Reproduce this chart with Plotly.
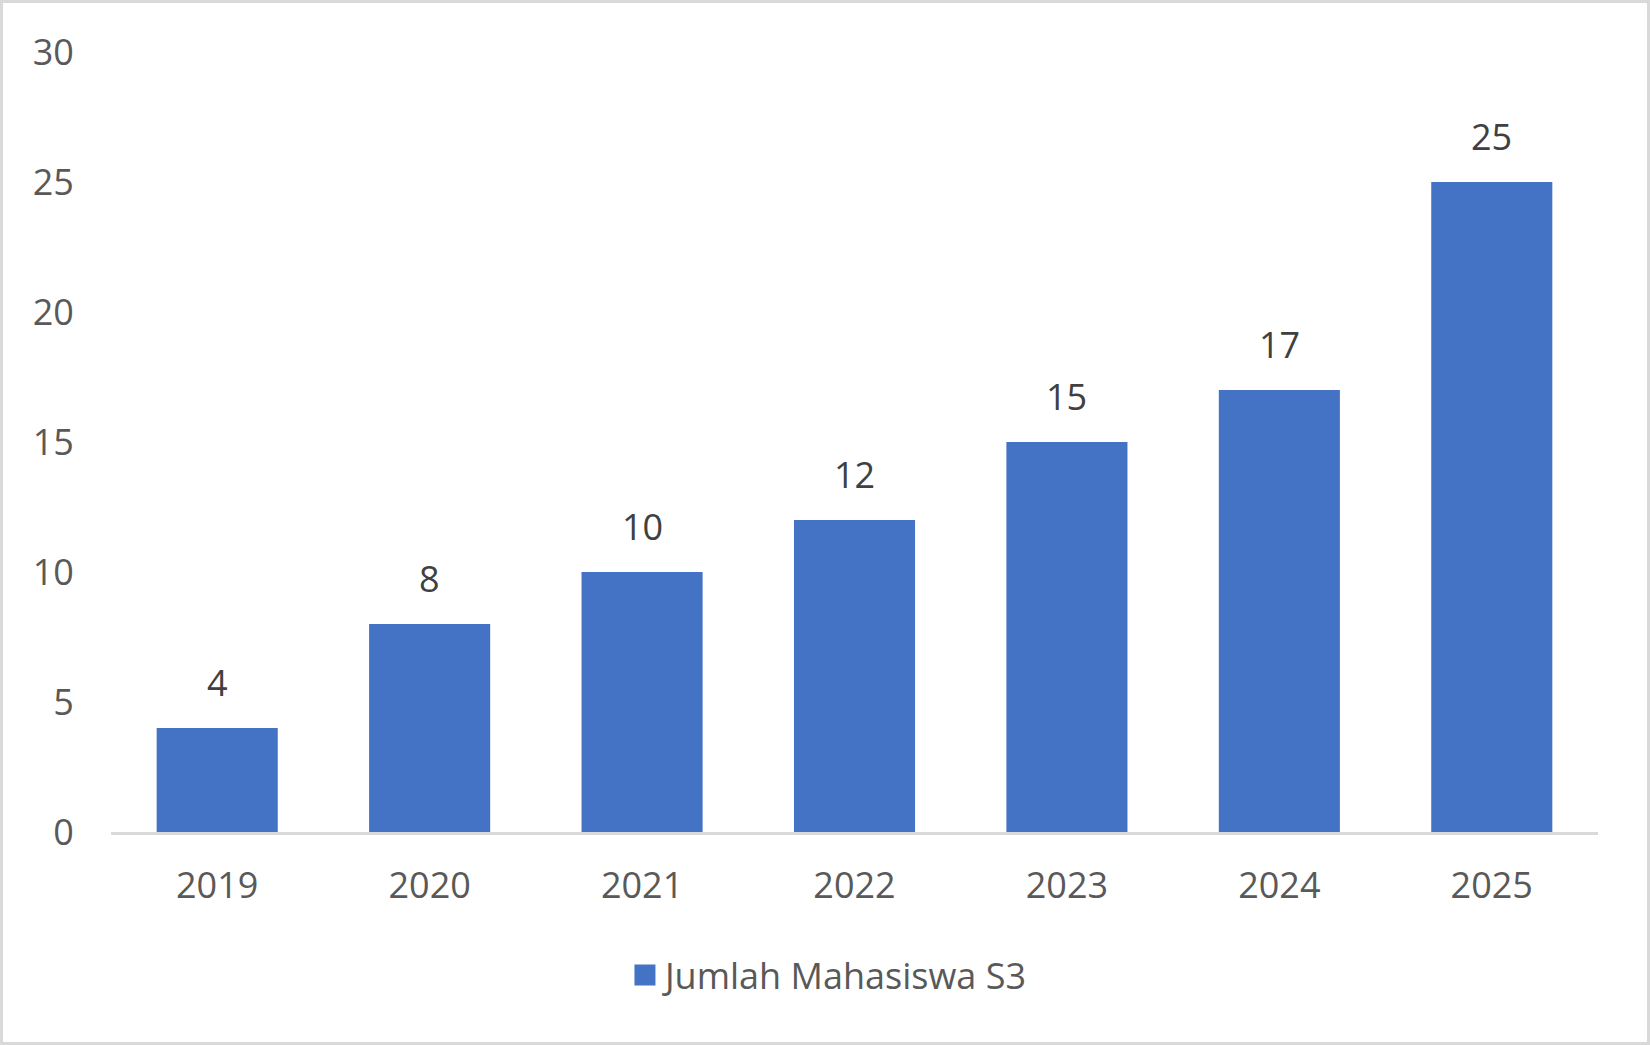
import plotly.graph_objects as go

years = ["2019", "2020", "2021", "2022", "2023", "2024", "2025"]
students = [4, 8, 10, 12, 15, 17, 25]
series_name = "Jumlah Mahasiswa S3"
y_ticks = [0, 5, 10, 15, 20, 25, 30]

W, H = 1650, 1045
ml, mr, mt, mb = 111, 52, 52, 213
pw, ph = W - ml - mr, H - mt - mb

fig = go.Figure()
fig.add_trace(go.Bar(
    x=years, y=students, name=series_name,
    marker=dict(color="#4472C4", line=dict(width=0)),
    showlegend=False,
))
# legend proxy so the square is the size of the original one
fig.add_trace(go.Scatter(
    x=[years[0]], y=[None], mode="markers", name=series_name,
    marker=dict(symbol="square", size=16, color="#4472C4",
                line=dict(width=5, color="#4472C4")),
))

# value labels; category axis -> use the category index, since "2019" would be read as a number
for i, v in enumerate(students):
    fig.add_annotation(
        x=i, y=v, text=str(v), showarrow=False,
        yanchor="bottom", yshift=19,
        font=dict(family="Open Sans", size=36, color="#404040"),
    )

# light grey frame around the whole picture
fig.add_shape(
    type="rect", xref="paper", yref="paper",
    x0=(1.5 - ml) / pw, x1=(W - 1.5 - ml) / pw,
    y0=-(mb - 1.5) / ph, y1=1 + (mt - 1.5) / ph,
    line=dict(color="#d9d9d9", width=3), layer="below",
)

fig.update_layout(
    width=W, height=H,
    margin=dict(l=ml, r=mr, t=mt, b=mb, pad=0),
    paper_bgcolor="white", plot_bgcolor="white",
    bargap=0.43,
    font=dict(family="Open Sans", size=36, color="#595959"),
    showlegend=True,
    legend=dict(
        orientation="h", xref="container", x=0.503, xanchor="center",
        yref="container", y=(H - 975) / H, yanchor="middle",
        itemsizing="trace", font=dict(size=36, color="#595959"),
    ),
    xaxis=dict(
        type="category", categoryorder="array", categoryarray=years,
        range=[-0.5, len(years) - 0.5],
        showline=True, linecolor="#d9d9d9", linewidth=3,
        showgrid=False, ticks="outside", ticklen=20,
        tickcolor="rgba(0,0,0,0)",
    ),
    yaxis=dict(
        range=[0, 30], tickvals=y_ticks, showgrid=False,
        zeroline=False, showline=False,
        ticks="outside", ticklen=29, tickcolor="rgba(0,0,0,0)",
    ),
)

fig.write_html("out.html", config={"displayModeBar": False},
               post_script="document.body.style.margin='0';")
